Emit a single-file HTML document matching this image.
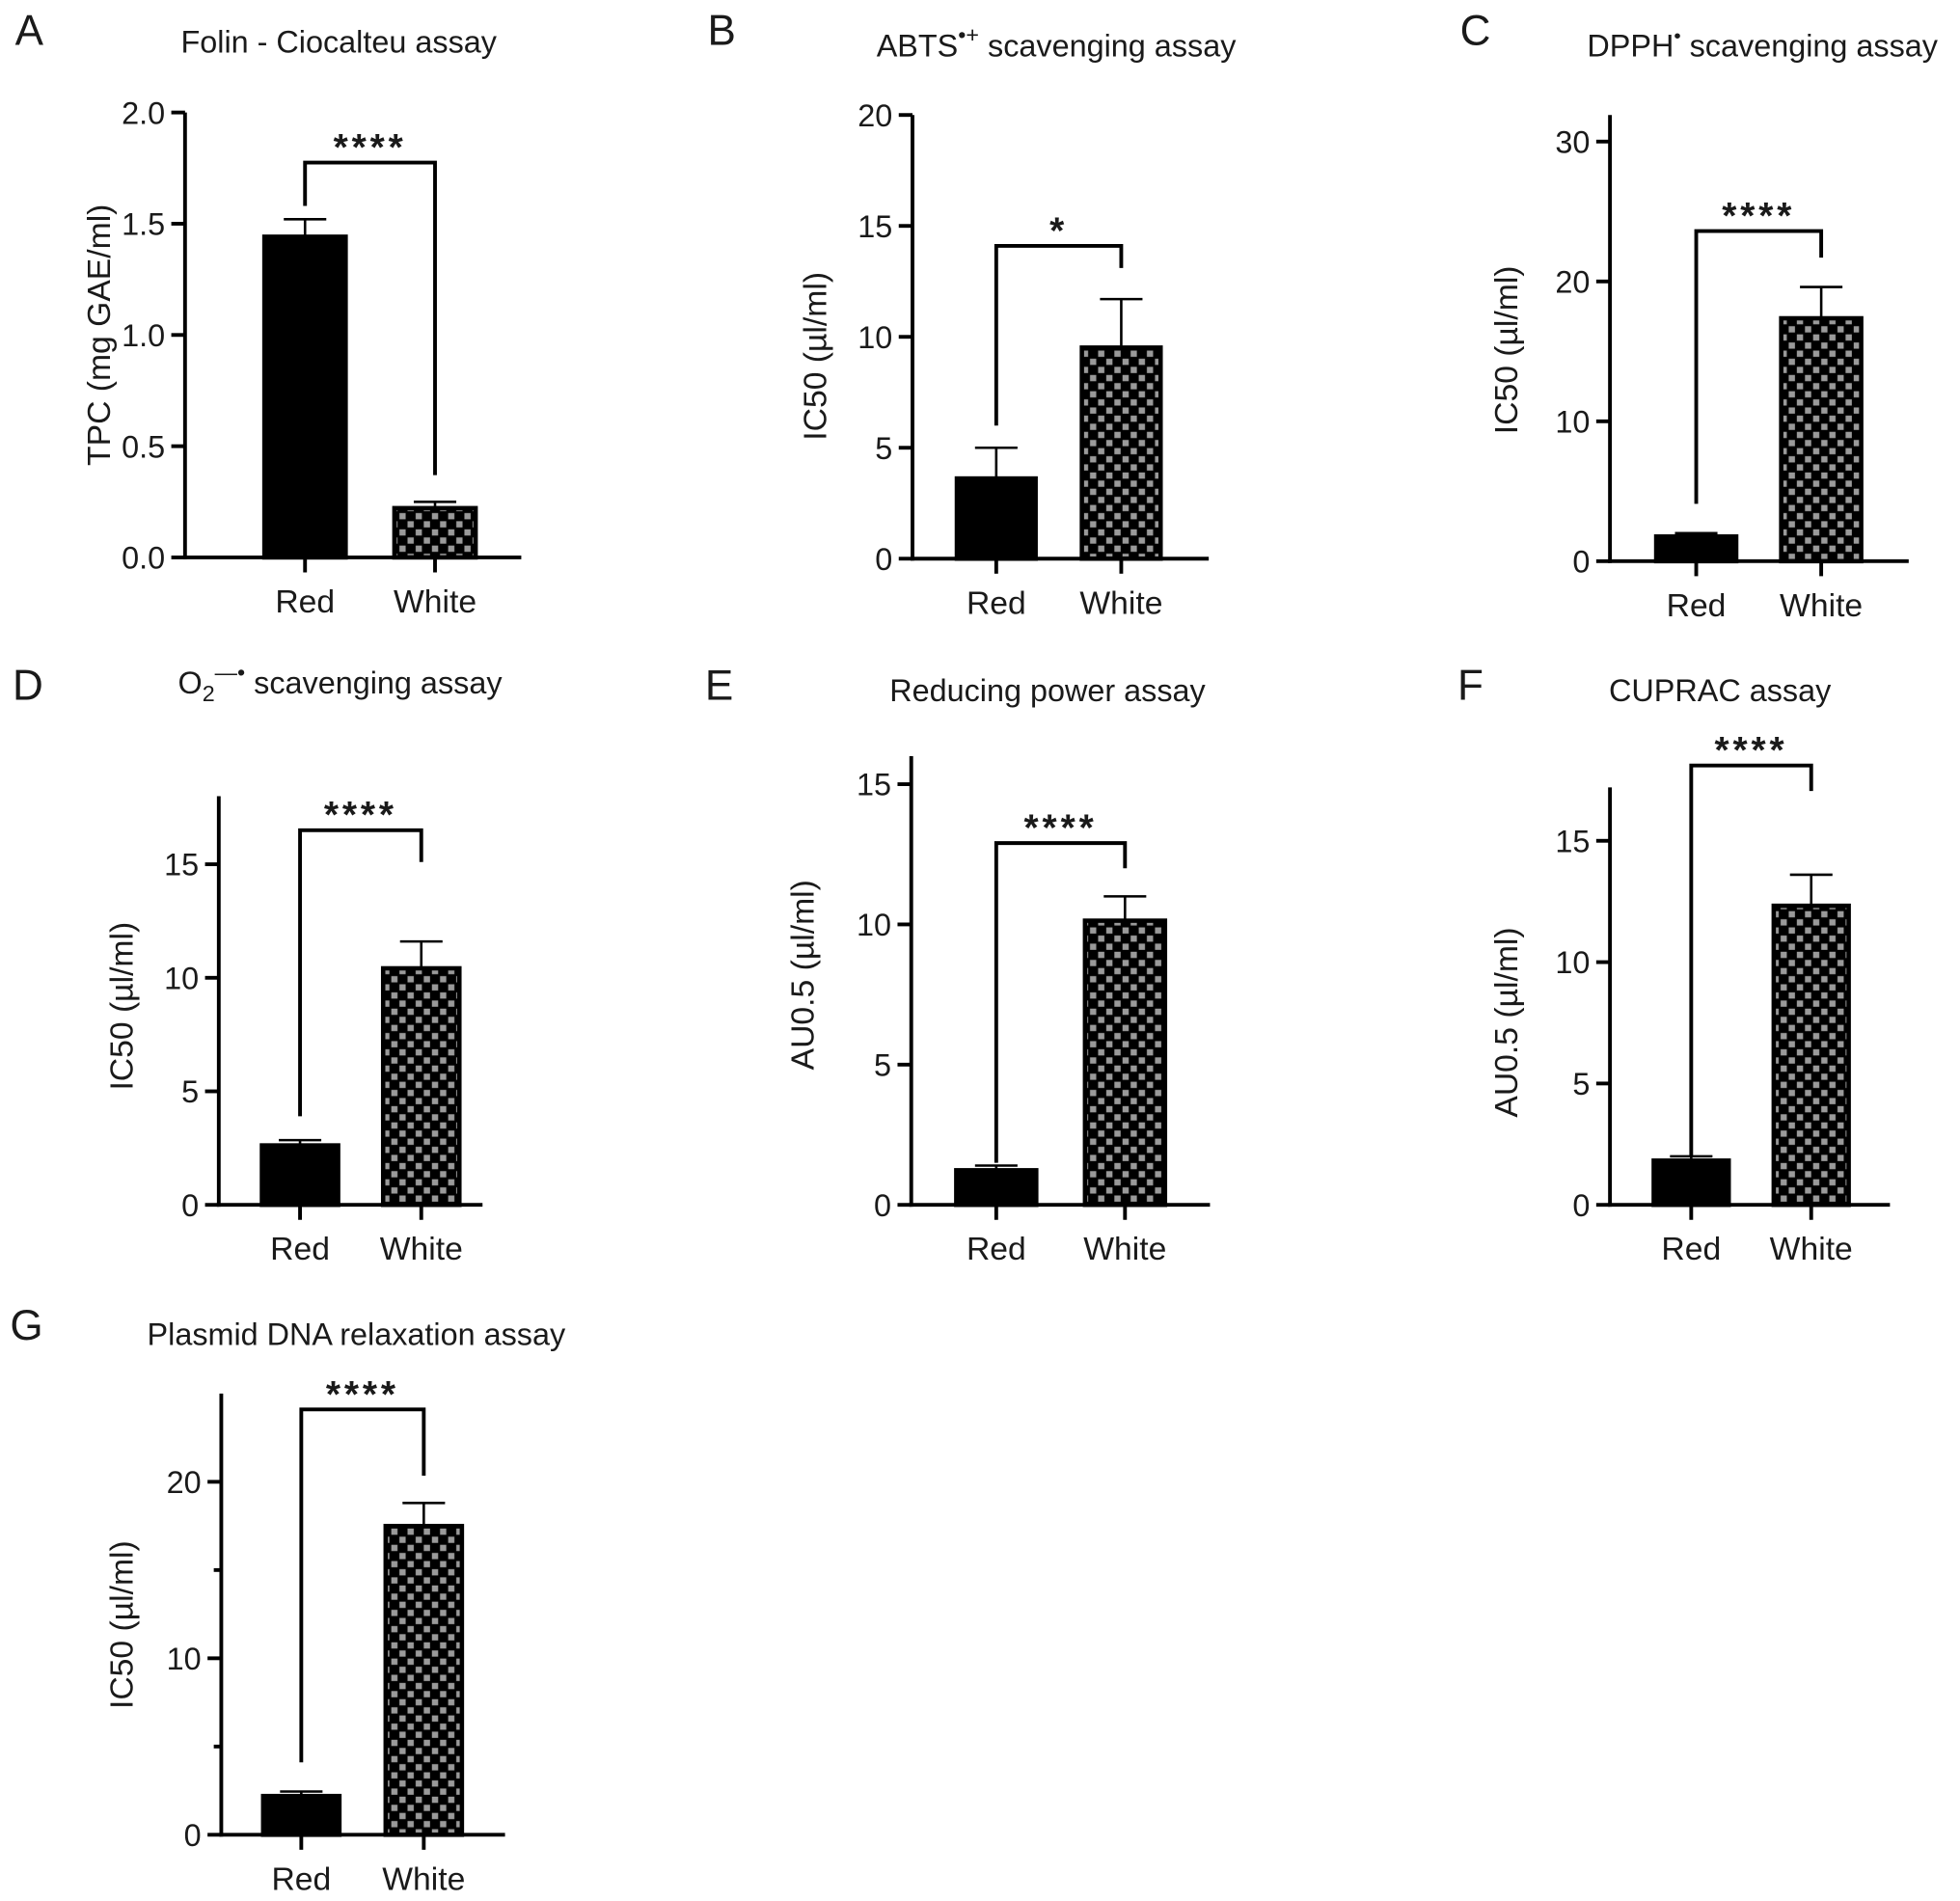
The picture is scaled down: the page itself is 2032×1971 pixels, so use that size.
<!DOCTYPE html>
<html><head><meta charset="utf-8"><style>
html,body{margin:0;padding:0;background:#fff;}
svg{display:block;}
text{font-family:"Liberation Sans",Arial,sans-serif;fill:#1a1a1a;}
</style></head>
<body>
<svg id="fig" width="2032" height="1971" viewBox="0 0 1568 1521" xmlns="http://www.w3.org/2000/svg">
<defs>
<pattern id="checker" width="13" height="13" patternUnits="userSpaceOnUse">
<rect width="13" height="13" fill="#000"/>
<rect x="1" y="1" width="5" height="5" fill="#9a9a9a"/>
<rect x="7.5" y="7.5" width="5" height="5" fill="#9a9a9a"/>
</pattern>
</defs>
</svg>
<script>
// ---- data ----
const panelLetters = ['A','B','C','D','E','F','G'];
const categories = ['Red','White'];
const redMeans  = [1.45, 3.7, 1.9, 2.7, 1.3, 1.9, 2.3];
const redErrTop = [1.52, 5.0, 2.0, 2.85, 1.4, 2.0, 2.45];
const whiteMeans  = [0.23, 9.6, 17.5, 10.5, 10.2, 12.4, 17.6];
const whiteErrTop = [0.25, 11.7, 19.6, 11.6, 11.0, 13.6, 18.8];
const yMaxes = [2.0, 20, 31.9, 18, 16, 17.2, 25];
const yTicksA = [0, 0.5, 1.0, 1.5, 2.0];
const yTicksB = [0, 5, 10, 15, 20];
const yTicksC = [0, 10, 20, 30];
const yTicksD = [0, 5, 10, 15];
const yTicksE = [0, 5, 10, 15];
const yTicksF = [0, 5, 10, 15];
const yTicksG = [0, 10, 20];
const yTickLabelsA = ['0.0','0.5','1.0','1.5','2.0'];
const minorTicksG = [5, 15];
const sigLabels = ['****','*','****','****','****','****','****'];
const bracketTop   = [1.775, 14.1, 23.6, 16.5, 12.9, 18.1, 24.1];
const bracketLeft  = [1.58, 6.0, 4.1, 3.9, 1.5, 2.0, 4.1];
const bracketRight = [0.37, 13.1, 21.7, 15.1, 12.0, 17.05, 20.35];
const yAxisTitles = ['TPC (mg GAE/ml)','IC50 (\u00b5l/ml)','IC50 (\u00b5l/ml)','IC50 (\u00b5l/ml)','AU0.5 (\u00b5l/ml)','AU0.5 (\u00b5l/ml)','IC50 (\u00b5l/ml)'];

// ---- layout (not data) ----
const layout = [
 {ax:148,y0:446,yTop:90,xEnd:417,c:[244,348],bw:68,letter:[12,36],title:[271,42],yt:[88,268]},
 {ax:730,y0:447,yTop:92,xEnd:967,c:[797,897],bw:66,letter:[566,36],title:[845,45],yt:[661,285]},
 {ax:1288,y0:449,yTop:92,xEnd:1527,c:[1357,1457],bw:67,letter:[1168,36],title:[1410,45],yt:[1214,280]},
 {ax:175,y0:964,yTop:637,xEnd:386,c:[240,337],bw:64,letter:[10,560],title:[272,555],yt:[106,805]},
 {ax:729,y0:964,yTop:605,xEnd:968,c:[797,900],bw:67,letter:[564,560],title:[838,561],yt:[651,780]},
 {ax:1288,y0:964,yTop:630,xEnd:1512,c:[1353,1449],bw:63,letter:[1166,560],title:[1376,561],yt:[1214,818]},
 {ax:177,y0:1468,yTop:1115,xEnd:404,c:[241,339],bw:64,letter:[8,1072],title:[285,1076],yt:[106,1300]}
];
const tickSets=[yTicksA,yTicksB,yTicksC,yTicksD,yTicksE,yTicksF,yTicksG];
const NS='http://www.w3.org/2000/svg';
const svg=document.getElementById('fig');
function mk(tag,attrs,parent){const e=document.createElementNS(NS,tag);for(const k in attrs)e.setAttribute(k,attrs[k]);(parent||svg).appendChild(e);return e;}

panelLetters.forEach((L,i)=>{
  const P=layout[i];
  const g=mk('g',{});
  
  
  const yS=v=>P.y0-(v/yMaxes[i])*(P.y0-P.yTop);
  const lt=mk('text',{x:P.letter[0],y:P.letter[1],'font-size':34},g);lt.textContent=L;
  
  
  const tt=mk('text',{x:P.title[0],y:P.title[1],'font-size':25,'text-anchor':'middle'},g);
  
  
  if(L==='A') tt.textContent='Folin - Ciocalteu assay';
  else if(L==='B') tt.innerHTML='ABTS<tspan font-size="18" dy="-11">\u2022+</tspan><tspan dy="11"> scavenging assay</tspan>';
  else if(L==='C') tt.innerHTML='DPPH<tspan font-size="16" dy="-11">\u2022</tspan><tspan dy="11"> scavenging assay</tspan>';
  else if(L==='D') tt.innerHTML='O<tspan font-size="18" dy="6">2</tspan><tspan font-size="18" dy="-17">\u2014\u2022</tspan><tspan dy="11"> scavenging assay</tspan>';
  else if(L==='E') tt.textContent='Reducing power assay';
  else if(L==='F') tt.textContent='CUPRAC assay';
  else tt.textContent='Plasmid DNA relaxation assay';
  const yt=mk('text',{x:P.yt[0],y:P.yt[1],'font-size':26,'text-anchor':'middle',transform:`rotate(-90 ${P.yt[0]} ${P.yt[1]})`},g);
  yt.textContent=yAxisTitles[i];
  
  
  const means=[redMeans[i],whiteMeans[i]], errs=[redErrTop[i],whiteErrTop[i]];
  categories.forEach((c,j)=>{
    const cx=P.c[j], top=yS(means[j]);
    const eb=mk('line',{x1:cx,x2:cx,y1:yS(errs[j]),y2:top,stroke:'#000','stroke-width':2},g);
    
    
    const cap=mk('line',{x1:cx-17,x2:cx+17,y1:yS(errs[j]),y2:yS(errs[j]),stroke:'#000','stroke-width':2},g);
    
    
    const r=mk('rect',{x:cx-P.bw/2+1.5,y:top+1.5,width:P.bw-3,height:Math.max(0,P.y0-top-1.5),fill:j===0?'#000':'url(#checker)',stroke:'#000','stroke-width':3.5},g);
    
    
    const tk=mk('line',{x1:cx,x2:cx,y1:P.y0,y2:P.y0+12,stroke:'#000','stroke-width':3},g);
    
    
    const xl=mk('text',{x:cx,y:P.y0+44,'font-size':26,'text-anchor':'middle'},g);xl.textContent=c;
    
    
  });
  const ya=mk('line',{x1:P.ax,x2:P.ax,y1:P.yTop,y2:P.y0+1.5,stroke:'#000','stroke-width':3},g);
  
  
  const xa=mk('line',{x1:P.ax-1.5,x2:P.xEnd,y1:P.y0,y2:P.y0,stroke:'#000','stroke-width':3},g);
  
  
  tickSets[i].forEach((v,k)=>{
    const y=yS(v);
    const t=mk('line',{x1:P.ax-11,x2:P.ax,y1:y,y2:y,stroke:'#000','stroke-width':3},g);
    
    
    const l=mk('text',{x:P.ax-16,y:y+9,'font-size':25,'text-anchor':'end'},g);
    l.textContent=(L==='A')?yTickLabelsA[k]:String(v);
    
    
  });
  if(L==='G') minorTicksG.forEach(v=>{
    const t=mk('line',{x1:P.ax-6,x2:P.ax,y1:yS(v),y2:yS(v),stroke:'#000','stroke-width':3},g);
    
    
  });
  const bt=yS(bracketTop[i]);
  const br=mk('polyline',{points:`${P.c[0]},${yS(bracketLeft[i])} ${P.c[0]},${bt} ${P.c[1]},${bt} ${P.c[1]},${yS(bracketRight[i])}`,fill:'none',stroke:'#000','stroke-width':3},g);
  
  
  const st=mk('text',{x:(P.c[0]+P.c[1])/2,y:bt-2,'font-size':30,'font-weight':'bold','text-anchor':'middle','letter-spacing':'3'},g);
  st.textContent=sigLabels[i];
  
  
});
</script>
</body></html>
